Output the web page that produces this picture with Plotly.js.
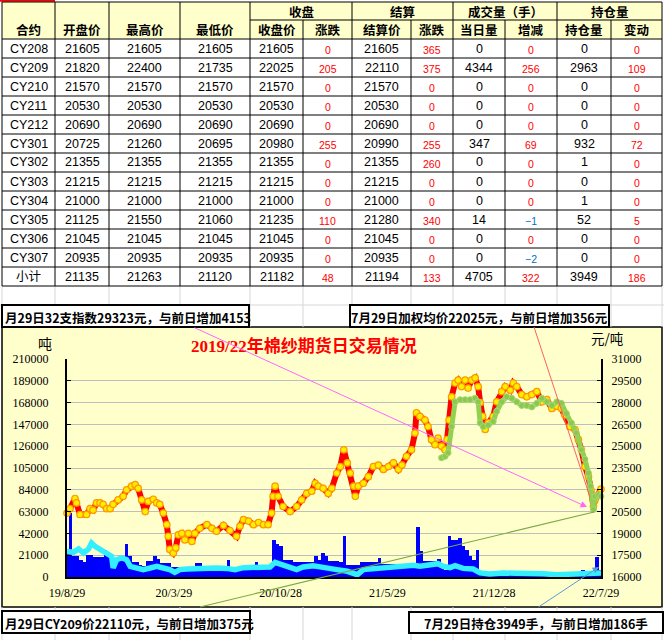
<!DOCTYPE html>
<html><head><meta charset="utf-8">
<script src="https://cdn.plot.ly/plotly-3.0.1.min.js"></script>
<style>body{margin:0;background:#fff}#chart{width:664px;height:640px}</style>
</head><body><div id="chart"></div>
<script>
// ---------- table data ----------
const contracts = ['CY208','CY209','CY210','CY211','CY212','CY301','CY302','CY303','CY304','CY305','CY306','CY307','小计'];
const openP   = [21605,21820,21570,20530,20690,20725,21355,21215,21000,21125,21045,20935,21135];
const highP   = [21605,22400,21570,20530,20690,21260,21355,21215,21000,21550,21045,20935,21263];
const lowP    = [21605,21735,21570,20530,20690,20695,21355,21215,21000,21060,21045,20935,21120];
const closeP  = [21605,22025,21570,20530,20690,20980,21355,21215,21000,21235,21045,20935,21182];
const closeChg= [0,205,0,0,0,255,0,0,0,110,0,0,48];
const settleP = [21605,22110,21570,20530,20690,20990,21355,21215,21000,21280,21045,20935,21194];
const settleChg=[365,375,0,0,0,255,260,0,0,340,0,0,133];
const volume  = [0,4344,0,0,0,347,0,0,0,14,0,0,4705];
const volChg  = [0,256,0,0,0,69,0,0,0,-1,0,-2,322];
const openInt = [0,2963,0,0,0,932,1,0,1,52,0,0,3949];
const oiChg   = [0,109,0,0,0,72,0,0,0,5,0,0,186];
const subHeaders = ['合约','开盘价','最高价','最低价','收盘价','涨跌','结算价','涨跌','当日量','增减','持仓量','变动'];
const groupHeaders = ['收盘','结算','成交量（手）','持仓量'];
const boxTexts = ['月29日32支指数29323元，与前日增加4153','7月29日加权均价22025元，与前日增加356元','月29日CY209价22110元，与前日增加375元','7月29日持仓3949手，与前日增加186手'];
const chartTitle = '2019/22年棉纱期货日交易情况';

// ---------- chart data ----------
const tickDates  = ['2019-08-29','2020-03-29','2020-10-28','2021-05-29','2021-12-28','2022-07-29'];
const tickLabels = ['19/8/29','20/3/29','20/10/28','21/5/29','21/12/28','22/7/29'];
const leftTicks  = [0,21000,42000,63000,84000,105000,126000,147000,168000,189000,210000];
const rightTicks = [16000,17500,19000,20500,22000,23500,25000,26500,28000,29500,31000];

const priceDates = [
'2019-08-29','2019-09-04','2019-09-14','2019-09-17','2019-09-24','2019-10-07','2019-10-14','2019-10-20','2019-10-27','2019-11-03',
'2019-11-09','2019-11-16','2019-11-23','2019-11-29','2019-12-09','2019-12-19','2019-12-26','2020-01-05','2020-01-12','2020-01-18',
'2020-01-25','2020-02-01','2020-02-07','2020-02-17','2020-02-24','2020-03-01','2020-03-08','2020-03-15','2020-03-18','2020-03-21',
'2020-03-28','2020-04-02','2020-04-07','2020-04-14','2020-04-20','2020-04-27','2020-05-04','2020-05-10','2020-05-20','2020-06-03',
'2020-06-13','2020-06-22','2020-07-06','2020-07-19','2020-08-01','2020-08-08','2020-08-15','2020-08-25','2020-09-04','2020-09-14',
'2020-09-24','2020-10-03','2020-10-10','2020-10-13','2020-10-17','2020-10-23','2020-11-02','2020-11-16','2020-11-29','2020-12-09',
'2020-12-19','2020-12-29','2021-01-05','2021-01-11','2021-01-21','2021-01-31','2021-02-07','2021-02-17','2021-02-24','2021-03-03',
'2021-03-10','2021-03-16','2021-03-23','2021-03-26','2021-04-01','2021-04-11','2021-04-21','2021-05-01','2021-05-11','2021-05-21',
'2021-05-31','2021-06-10','2021-06-20','2021-06-27','2021-07-06','2021-07-16','2021-07-23','2021-07-26','2021-08-02','2021-08-12',
'2021-08-18','2021-08-25','2021-09-01','2021-09-07','2021-09-14','2021-09-21','2021-09-25','2021-09-29','2021-10-04','2021-10-11',
'2021-10-17','2021-10-24','2021-10-31','2021-11-06','2021-11-13','2021-11-20','2021-11-26','2021-11-30','2021-12-05','2021-12-10',
'2021-12-16','2021-12-26','2022-01-02','2022-01-12','2022-01-19','2022-01-29','2022-02-04','2022-02-11','2022-02-21','2022-03-03',
'2022-03-13','2022-03-23','2022-04-02','2022-04-12','2022-04-22','2022-05-02','2022-05-11','2022-05-18','2022-05-28','2022-06-07',
'2022-06-14','2022-06-20','2022-06-27','2022-07-04','2022-07-09','2022-07-14','2022-07-17','2022-07-24','2022-07-29'];
const priceVals = [
20400,20700,21400,21100,20300,20300,20700,20600,21100,21100,
21000,20700,20700,21000,21300,21550,22000,22250,22350,22100,
21300,20500,21200,21350,21100,21000,20400,19600,18800,17900,
17650,18000,18900,19000,18550,19000,18450,19000,19350,19600,
19350,19150,19550,19200,18800,19500,19950,19850,19600,19750,
19600,19600,20400,21550,22250,21550,20850,20500,20850,21300,
21750,21900,22450,22250,22100,21750,22100,23150,23600,24750,
23850,23150,22250,21550,22250,22450,22900,23600,23700,23400,
23600,23850,23400,23700,24300,24750,25900,27300,27050,26800,
26350,25450,25100,25550,25000,24750,25450,26800,28400,29350,
29550,29100,29550,29000,29550,29700,29100,28000,27050,26150,
26600,27050,28050,28750,29100,28850,29350,29100,28550,28400,
28550,28750,28050,28200,27600,27750,27600,27150,26350,26150,
25450,24750,23600,22900,22000,20850,21300,21650,22050];

const avgDates = [
'2021-09-14','2021-09-21','2021-09-27','2021-10-04','2021-10-11','2021-10-21','2021-10-31','2021-11-10','2021-11-20','2021-11-26',
'2021-11-30','2021-12-06','2021-12-16','2021-12-26','2022-01-02','2022-01-12','2022-01-22','2022-02-01','2022-02-11','2022-02-21',
'2022-03-03','2022-03-13','2022-03-23','2022-04-02','2022-04-12','2022-04-22','2022-05-02','2022-05-11','2022-05-21','2022-05-31',
'2022-06-10','2022-06-20','2022-06-27','2022-07-04','2022-07-08','2022-07-14','2022-07-17','2022-07-24','2022-07-29'];
const avgVals = [
24200,24300,24550,26350,28050,28200,28200,28200,28300,28050,
26600,26350,26450,26700,27400,28050,28400,28300,28050,27800,
27800,27700,27950,28300,28050,27800,28050,27950,27250,26600,
25900,24750,24100,23150,22250,20650,21550,21650,21550];

const oiDates = [
'2019-08-29','2019-09-11','2019-09-21','2019-10-01','2019-10-11','2019-10-17','2019-10-24','2019-11-03','2019-11-16','2019-11-26',
'2019-11-29','2019-12-06','2019-12-16','2019-12-26','2020-01-02','2020-01-15','2020-01-28','2020-02-11','2020-02-24','2020-03-08',
'2020-03-21','2020-03-31','2020-04-10','2020-04-24','2020-05-14','2020-06-03','2020-06-22','2020-07-12','2020-07-29','2020-08-15',
'2020-09-04','2020-09-24','2020-10-07','2020-10-17','2020-10-30','2020-11-16','2020-11-29','2020-12-12','2021-01-01','2021-01-21',
'2021-02-07','2021-02-17','2021-03-10','2021-03-30','2021-04-11','2021-05-01','2021-05-21','2021-06-10','2021-06-30','2021-07-20',
'2021-08-02','2021-08-22','2021-09-07','2021-09-17','2021-10-01','2021-10-11','2021-10-27','2021-11-16','2021-11-30','2021-12-19',
'2022-01-15','2022-02-11','2022-03-09','2022-04-05','2022-05-01','2022-05-28','2022-06-24','2022-07-14','2022-07-29'];
const oiVals = [
24700,23800,27000,23100,27000,32750,29500,26300,23100,19900,
8700,16700,18300,16700,10300,8700,7100,8700,10300,8700,
7100,4500,7100,7700,8300,9300,8700,8300,7100,9000,
9600,10300,9600,14100,11900,10300,7100,9600,10900,9300,
8700,7100,5500,2200,7100,8000,7700,8700,9600,11200,
10300,11200,12800,10300,9000,10900,8300,7700,3900,2900,
3900,3500,3900,3200,2200,2900,3900,4200,3949];

// weekly volume readings starting 2019-08-29
const volStart = '2019-08-29';
const volVals = [
23100,61600,19900,19900,16000,14000,21500,21500,19000,19000,
19000,25700,23100,15100,16700,16700,16700,32100,20000,14100,
14100,12000,10300,15100,15100,20500,17300,13500,13500,13500,
9300,9300,9300,9300,9300,9300,9300,13500,13500,9300,
9300,9300,9300,9300,9300,9300,16000,8700,8700,8700,
8700,8700,8700,8700,14400,9300,9300,9300,9300,36000,
32100,30000,16700,16700,16700,14100,14100,14100,14100,14100,
14100,20500,16000,23100,20500,15100,15100,15100,14100,39800,
11900,11900,11900,11900,14100,14100,14100,14100,14100,18300,
12800,12800,12800,12800,12800,12800,12800,12800,12800,12800,
48200,25000,15100,15100,15100,15100,17300,12000,7100,39200,
36000,36000,37600,30200,25700,20500,16000,26300,5000,3900,
3900,3900,3900,3900,3900,3900,3900,3900,3900,3900,
3900,3900,3900,3900,3900,3900,3900,3900,3900,3900,
3900,3900,3900,3900,3900,3900,3900,7100,3900,3900,
3900,19300,7100];

// ---------- geometry helpers (pixel -> paper) ----------
const L=67, R=601, T=359, B=577;
const X = px => (px-L)/(R-L);
const Y = py => (B-py)/(B-T);
const shapes=[], annotations=[];
function line(x0,y0,x1,y1,color,width,layer){shapes.push({type:'line',xref:'paper',yref:'paper',x0:X(x0),y0:Y(y0),x1:X(x1),y1:Y(y1),line:{color:color,width:width},layer:layer||'above'});}
function rect(x0,y0,x1,y1,fill,lc,lw,layer){shapes.push({type:'rect',xref:'paper',yref:'paper',x0:X(x0),y0:Y(y0),x1:X(x1),y1:Y(y1),fillcolor:fill,line:{color:lc||'rgba(0,0,0,0)',width:lw||0},layer:layer||'below'});}
function text(px,py,t,font,opts){annotations.push(Object.assign({xref:'paper',yref:'paper',x:X(px),y:Y(py),text:t,showarrow:false,xanchor:'center',yanchor:'middle',font:font},opts||{}));}

// ---------- table ----------
const colX = [2,55,109,180,250,303,352,411,453,505,557,611,662];
const rowH = 19, headTop = 2, headMid = 20, dataTop = 39;
const nRows = contracts.length, tableBottom = dataTop + rowH*nRows;
rect(2,headTop,662,dataTop,'#FFFFCC');
rect(2,dataTop,662,tableBottom,'#FFFFFF');
line(0,0.8,55,0.8,'#FF0000',2);
// faint worksheet grid
const faint = '#D6D6D6';
colX.forEach(x=>{ line(x,tableBottom,x,327,faint,1); line(x,607,x,640,faint,1); });
line(0,305,664,305,faint,1);
// table borders
const groupCols = [303,411,505,611];
colX.forEach(x=>{ line(x, groupCols.includes(x)?headMid:headTop, x, tableBottom, '#000', 1); });
line(2,headTop,662,headTop,'#000',1);
line(250,headMid,662,headMid,'#000',1);
for(let i=0;i<=nRows;i++) line(2,dataTop+rowH*i,662,dataTop+rowH*i,'#000',1);

const hFont = {family:'Noto Sans CJK SC', size:12.5, color:'#000'};
subHeaders.forEach((h,j)=>{
  const merged = j<4;
  text((colX[j]+colX[j+1])/2, merged?29:30, '<b>'+h+'</b>', hFont);
});
const groupSpans = [[250,352],[352,453],[453,557],[557,662]];
groupHeaders.forEach((h,k)=> text((groupSpans[k][0]+groupSpans[k][1])/2, 11.5, '<b>'+h+'</b>', hFont));

const tableCols = [contracts,openP,highP,lowP,closeP,closeChg,settleP,settleChg,volume,volChg,openInt,oiChg];
const isChg = [false,false,false,false,false,true,false,true,false,true,false,true];
tableCols.forEach((col,j)=>{
  col.forEach((v,i)=>{
    const cy = dataTop + rowH*i + 9.5;
    const cx = (colX[j]+colX[j+1])/2;
    if(isChg[j]){
      const neg = v<0;
      text(cx, cy+1.5, neg ? '\u2212'+Math.abs(v) : String(v),
        {family:'Liberation Sans', size:10.5, color: neg?'#0070C0':'#FF0000'});
    } else {
      text(cx, cy, String(v), {family:'Liberation Sans, Noto Sans CJK SC', size:12.5, color:'#000'});
    }
  });
});

// ---------- chart frame & text boxes ----------
rect(2,327,662,607,'#FFFFCC','#000',1.5,'below');
const bFont = {family:'Noto Sans CJK SC', size:12.5, color:'#000'};
rect(2,305,249,327,'#FFFFFF','#000',2,'above');
rect(350,305,609,327,'#FFFFFF','#000',2,'above');
rect(2,611,250,633,'#FFFFFF','#000',2,'above');
rect(409,612,663,633,'#FFFFFF','#000',2,'above');
text(3,317.5,'<b>'+boxTexts[0]+'</b>',bFont,{xanchor:'left'});
text(479.5,317.5,'<b>'+boxTexts[1]+'</b>',bFont);
text(3,623,'<b>'+boxTexts[2]+'</b>',bFont,{xanchor:'left'});
text(536,623,'<b>'+boxTexts[3]+'</b>',bFont);

text(304,346,'<b>'+chartTitle+'</b>',{family:'Liberation Serif, Noto Sans CJK SC', size:17, color:'#FF0000'});
text(45,343,'吨',{family:'Noto Sans CJK SC', size:14, color:'#000'});
text(607,338,'元/吨',{family:'Noto Sans CJK SC', size:13.5, color:'#000'});

// callout lines
line(534,327,590,497,'#FF6060',1);
line(200,607,594,512,'#77AA44',1.2);
annotations.push({xref:'paper',yref:'paper',x:X(587),y:Y(507),ax:193-587,ay:327-507,axref:'pixel',ayref:'pixel',text:'',showarrow:true,arrowhead:2,arrowsize:1.3,arrowwidth:1,arrowcolor:'#FF66FF'});
annotations.push({xref:'paper',yref:'paper',x:X(599),y:Y(567),ax:537-599,ay:608-567,axref:'pixel',ayref:'pixel',text:'',showarrow:true,arrowhead:2,arrowsize:1.3,arrowwidth:1,arrowcolor:'#5B9BD5'});

// ---------- traces ----------
const dayMs = 86400000, startMs = Date.UTC(2019,7,29);
const volDates = volVals.map((v,k)=> new Date(startMs + k*7*dayMs).toISOString().slice(0,10));

const traces = [
  {type:'bar', x:volDates, y:volVals, marker:{color:'#0000FF', line:{width:0}}, yaxis:'y', hoverinfo:'skip'},
  {type:'scatter', mode:'lines', x:oiDates, y:oiVals, line:{color:'#33EEFF', width:5.5}, yaxis:'y', cliponaxis:false},
  {type:'scatter', mode:'lines+markers', x:priceDates, y:priceVals, yaxis:'y2', cliponaxis:false,
   line:{color:'#FF0000', width:6}, marker:{symbol:'circle', size:6.5, color:'#FFEE00', line:{color:'#FF9900', width:1.2}}},
  {type:'scatter', mode:'lines+markers', x:avgDates, y:avgVals, yaxis:'y2', cliponaxis:false,
   line:{color:'#92D050', width:5}, marker:{symbol:'circle', size:6, color:'#8CC84B', line:{color:'#A6D874', width:1}}}
];

const tickFont = {family:'Liberation Serif', size:12, color:'#000'};
const layout = {
  width:664, height:640,
  margin:{l:L, r:664-R, t:T, b:640-B, pad:0},
  paper_bgcolor:'#FFFFFF', plot_bgcolor:'rgba(0,0,0,0)',
  showlegend:false, bargap:0,
  xaxis:{type:'date', range:[tickDates[0], tickDates[tickDates.length-1]], tickvals:tickDates, ticktext:tickLabels,
         showgrid:false, zeroline:false, showline:true, linecolor:'#000', linewidth:1.5, ticks:'', tickfont:tickFont, ticklabelstandoff:4, fixedrange:true},
  yaxis:{range:[0,210000], tickvals:leftTicks, tickformat:'d', showgrid:true, gridcolor:'#BEBEBE', gridwidth:1,
         zeroline:false, showline:true, linecolor:'#000', linewidth:2, ticks:'inside', ticklen:4, tickcolor:'#000',
         tickfont:tickFont, ticklabelstandoff:14, fixedrange:true},
  yaxis2:{overlaying:'y', side:'right', range:[16000,31000], tickvals:rightTicks, tickformat:'d', showgrid:false,
         zeroline:false, showline:true, linecolor:'#000', linewidth:2, ticks:'inside', ticklen:4, tickcolor:'#000',
         tickfont:tickFont, ticklabelstandoff:6, fixedrange:true},
  shapes:shapes, annotations:annotations
};
Plotly.newPlot('chart', traces, layout, {displayModeBar:false, staticPlot:true});
</script>
</body></html>
